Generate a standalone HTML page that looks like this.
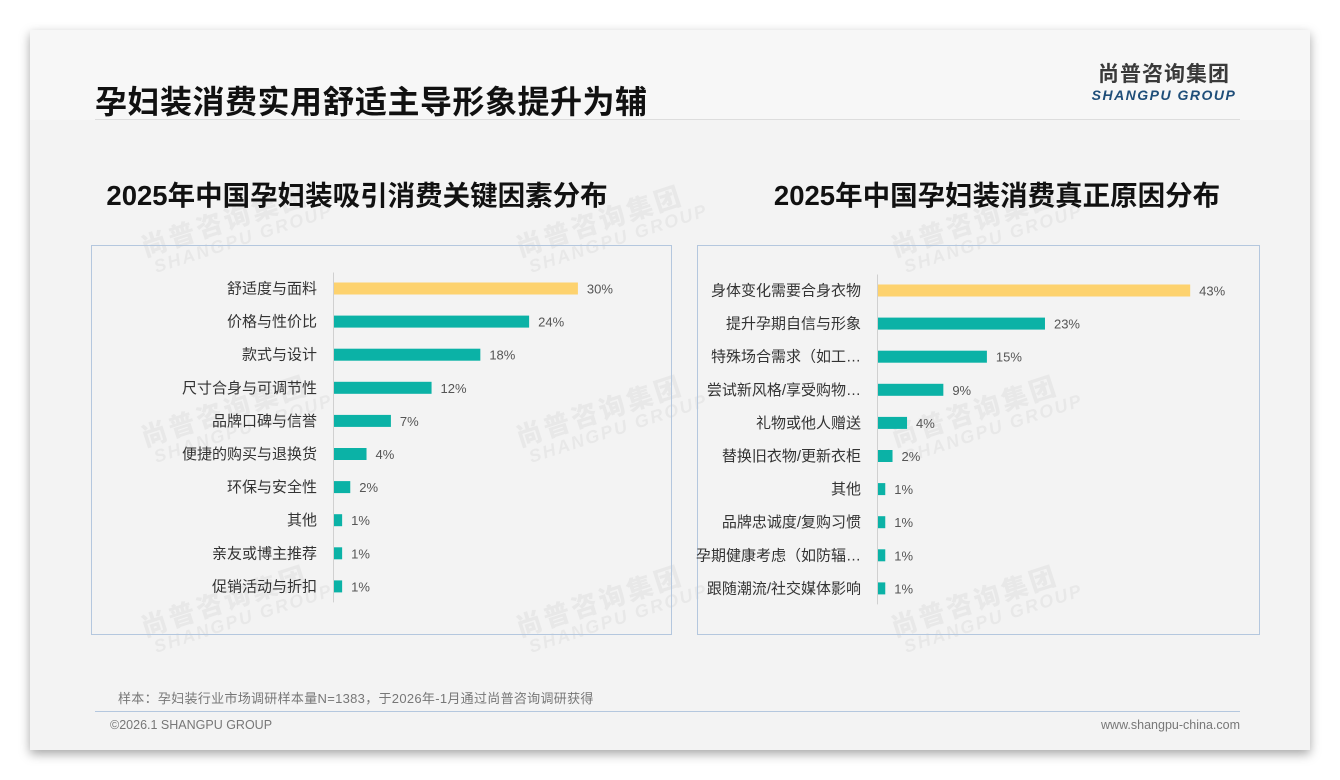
<!DOCTYPE html>
<html><head><meta charset="utf-8">
<style>
*{margin:0;padding:0;box-sizing:border-box}
body{width:1340px;height:780px;background:#fff;position:relative;overflow:hidden;font-family:"Liberation Sans","Noto Sans CJK SC",sans-serif}
#card{position:absolute;left:30px;top:30px;width:1280px;height:720px;background:#f3f3f3;box-shadow:0 4px 10px rgba(0,0,0,.35)}
#head{position:absolute;left:0;top:0;width:1280px;height:90px;background:#f7f7f7}
.abs{position:absolute}
.wm{position:absolute;color:rgba(0,0,0,.045);font-weight:bold;transform:rotate(-18deg);line-height:1;white-space:nowrap}
.wm b{display:block;font-size:26px;letter-spacing:3px}
.wm i{display:block;font-size:18px;letter-spacing:2px;margin-left:6px}
</style></head><body>
<div id="card">
<div id="head"></div>
</div>
<div class="abs" style="left:95px;top:77px;font-size:32px;font-weight:bold;color:#111;letter-spacing:0.5px;white-space:nowrap">孕妇装消费实用舒适主导形象提升为辅</div>
<div class="abs" style="left:95px;top:119px;width:1145px;height:1px;background:#ddd"></div>
<div class="abs" style="left:1088px;top:63px;width:152px;text-align:center">
<div style="font-size:21px;font-weight:bold;color:#3a3a3a;letter-spacing:1px;line-height:24px">尚普咨询集团</div>
<div style="font-size:14px;font-weight:bold;font-style:italic;color:#1f4e79;letter-spacing:1.5px;line-height:16px">SHANGPU GROUP</div>
</div>

<div class="wm" style="left:140px;top:205px"><b>尚普咨询集团</b><i>SHANGPU GROUP</i></div>
<div class="wm" style="left:515px;top:205px"><b>尚普咨询集团</b><i>SHANGPU GROUP</i></div>
<div class="wm" style="left:890px;top:205px"><b>尚普咨询集团</b><i>SHANGPU GROUP</i></div>
<div class="wm" style="left:140px;top:395px"><b>尚普咨询集团</b><i>SHANGPU GROUP</i></div>
<div class="wm" style="left:515px;top:395px"><b>尚普咨询集团</b><i>SHANGPU GROUP</i></div>
<div class="wm" style="left:890px;top:395px"><b>尚普咨询集团</b><i>SHANGPU GROUP</i></div>
<div class="wm" style="left:140px;top:585px"><b>尚普咨询集团</b><i>SHANGPU GROUP</i></div>
<div class="wm" style="left:515px;top:585px"><b>尚普咨询集团</b><i>SHANGPU GROUP</i></div>
<div class="wm" style="left:890px;top:585px"><b>尚普咨询集团</b><i>SHANGPU GROUP</i></div>

<div class="abs" style="left:40px;top:173px;width:634px;text-align:center;font-size:27.5px;font-weight:bold;color:#111;white-space:nowrap">2025年中国孕妇装吸引消费关键因素分布</div>
<div class="abs" style="left:697px;top:173px;width:600px;text-align:center;font-size:27.5px;font-weight:bold;color:#111;white-space:nowrap">2025年中国孕妇装消费真正原因分布</div>

<svg class="abs" style="left:0;top:0" width="1340" height="780">
<rect x="91.5" y="245.5" width="580" height="389" fill="none" stroke="#b4c7de"/>
<rect x="697.5" y="245.5" width="562" height="389" fill="none" stroke="#b4c7de"/>
<g id="left"></g><g id="right"></g>
</svg>

<div class="abs" style="left:118px;top:688px;font-size:13px;color:#777;letter-spacing:0.3px;white-space:nowrap">样本：孕妇装行业市场调研样本量N=1383，于2026年-1月通过尚普咨询调研获得</div>
<div class="abs" style="left:95px;top:711px;width:1145px;height:1px;background:#b4c7de"></div>
<div class="abs" style="left:110px;top:718px;font-size:12.5px;color:#777">©2026.1 SHANGPU GROUP</div>
<div class="abs" style="left:1040px;top:718px;width:200px;text-align:right;font-size:12.5px;color:#777">www.shangpu-china.com</div>

<script>
const leftCategories=["舒适度与面料","价格与性价比","款式与设计","尺寸合身与可调节性","品牌口碑与信誉","便捷的购买与退换货","环保与安全性","其他","亲友或博主推荐","促销活动与折扣"];
const leftValues=[30,24,18,12,7,4,2,1,1,1];
const rightCategories=["身体变化需要合身衣物","提升孕期自信与形象","特殊场合需求（如工…","尝试新风格/享受购物…","礼物或他人赠送","替换旧衣物/更新衣柜","其他","品牌忠诚度/复购习惯","孕期健康考虑（如防辐…","跟随潮流/社交媒体影响"];
const rightValues=[43,23,15,9,4,2,1,1,1,1];
const NS="http://www.w3.org/2000/svg";
function draw(gid,cats,vals,cfg){
  const g=document.getElementById(gid);
  const x=v=>cfg.x0+v*cfg.k;
  const y=i=>cfg.y0+i*cfg.step;
  const ax=document.createElementNS(NS,"line");
  
  
  ax.setAttribute("x1",cfg.x0+.5);ax.setAttribute("x2",cfg.x0+.5);
  ax.setAttribute("y1",y(0)-16);ax.setAttribute("y2",y(cats.length-1)+16);
  ax.setAttribute("stroke","#d0d0d0");g.appendChild(ax);
  cats.forEach((c,i)=>{
    const w=Math.max(vals[i]*cfg.k,6);
    const r=document.createElementNS(NS,"rect");
    
    
    r.setAttribute("x",cfg.x0+1);r.setAttribute("y",y(i)-6);
    r.setAttribute("width",w);r.setAttribute("height",12);
    r.setAttribute("fill",i===0?"#fdd26e":"#0bb2a6");g.appendChild(r);
    const t=document.createElementNS(NS,"text");
    
    
    t.setAttribute("x",cfg.lx);t.setAttribute("y",y(i)+5);
    t.setAttribute("text-anchor","end");t.setAttribute("font-size","15");t.setAttribute("fill","#333");
    t.textContent=c;g.appendChild(t);
    const v=document.createElementNS(NS,"text");
    
    
    v.setAttribute("x",cfg.x0+1+w+9);v.setAttribute("y",y(i)+5);
    v.setAttribute("font-size","13");v.setAttribute("fill","#555");
    v.textContent=vals[i]+"%";g.appendChild(v);
  });
}
draw("left",leftCategories,leftValues,{x0:333,k:8.13,y0:288.5,step:33.1,lx:317});
draw("right",rightCategories,rightValues,{x0:877,k:7.26,y0:290.5,step:33.1,lx:861});
</script>
</body></html>
